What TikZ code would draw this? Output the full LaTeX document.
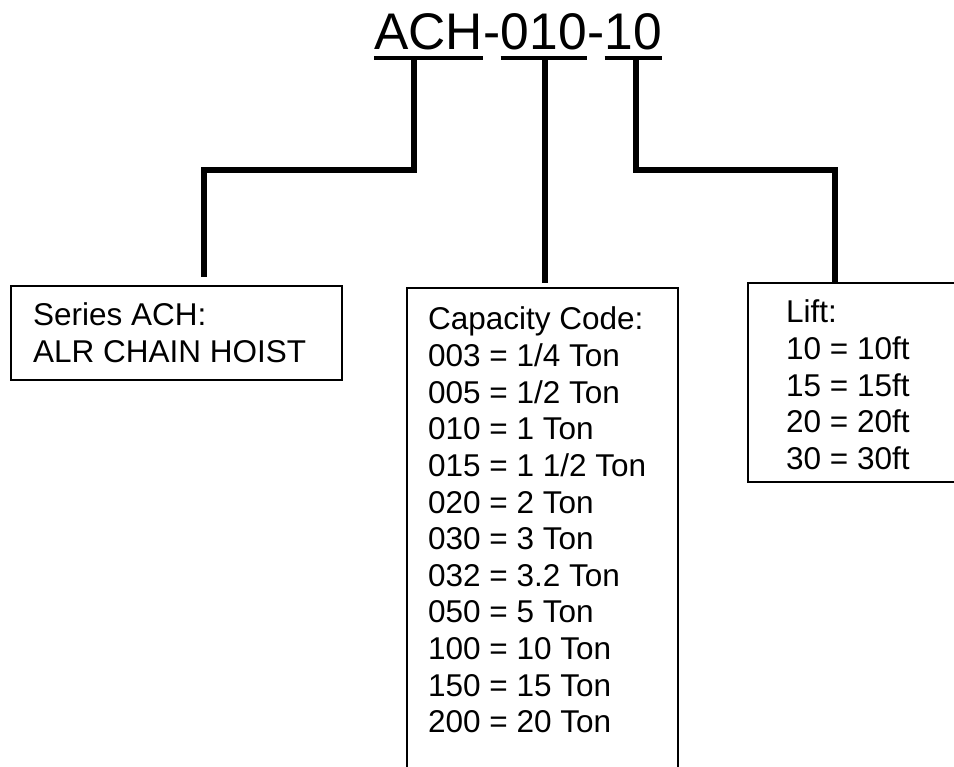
\documentclass[tikz,border=0pt]{standalone}
\usepackage{fontspec}
\setmainfont{Liberation Sans}
\begin{document}
\begin{tikzpicture}[x=1pt,y=-1pt,
  conn/.style={line width=6pt,line join=miter,line cap=butt},
  ul/.style={line width=4pt},
  box/.style={draw,line width=2pt,rectangle,inner sep=0pt},
  ttl/.style={inner sep=0pt,anchor=base west,font=\fontsize{51.5}{60}\selectfont},
  txt/.style={inner sep=0pt,anchor=base west,font=\fontsize{31.5}{36.6}\selectfont}]
\clip (0,0) rectangle (954,767);
\fill[white] (0,0) rectangle (954,767);
% title
\node[ttl] (tA) at (374,50) {ACH};
\node[ttl] (h1) at (tA.base east) {-};
\node[ttl] (tB) at (h1.base east) {010};
\node[ttl] (h2) at (tB.base east) {-};
\node[ttl] (tC) at (h2.base east) {10};
\draw[ul] ([yshift=-8pt]tA.base west) -- ([yshift=-8pt]tA.base east);
\draw[ul] ([yshift=-8pt]tB.base west) -- ([yshift=-8pt]tB.base east);
\draw[ul] ([yshift=-8pt]tC.base west) -- ([yshift=-8pt]tC.base east);
% boxes
\node[box,minimum width=331pt,minimum height=94pt] (b1) at (176.5,333) {};
\node[box,minimum width=271pt,minimum height=540pt] (b2) at (542,558) {};
\node[box,minimum width=260pt,minimum height=199pt] (b3) at (878,382.5) {};
% box texts
\node[txt] (s1) at (33,326) {Series ACH:};
\node[txt] (s2) at (33,363) {ALR CHAIN HOIST};
\foreach \t [count=\i from 0] in {Capacity Code:,003 = 1/4 Ton,005 = 1/2 Ton,010 = 1 Ton,015 = 1 1/2 Ton,020 = 2 Ton,030 = 3 Ton,032 = 3.2 Ton,050 = 5 Ton,100 = 10 Ton,150 = 15 Ton,200 = 20 Ton}
  \node[txt] (c\i) at (428,330+36.6*\i) {\t};
\foreach \t [count=\i from 0] in {Lift:,10 = 10ft,15 = 15ft,20 = 20ft,30 = 30ft}
  \node[txt] (l\i) at (786,323+36.6*\i) {\t};
% connectors
\coordinate (u1) at (414,58);
\coordinate (u2) at (545,58);
\coordinate (u3) at (636,58);
\coordinate (k1) at (204,170);
\coordinate (k3) at (835,170);
\draw[conn] (u1) |- (k1) -- ([yshift=8pt]b1.north -| k1);
\draw[conn] (u2) -- ([yshift=4pt]b2.north -| u2);
\draw[conn] (u3) |- (k3) -- (b3.north -| k3);
\end{tikzpicture}
\end{document}
